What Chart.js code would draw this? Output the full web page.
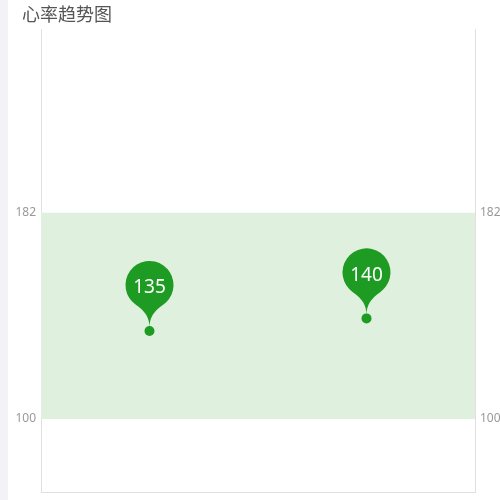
<!DOCTYPE html>
<html lang="zh">
<head>
    <meta charset="UTF-8">
    <title>心率趋势图</title>
    <style>
        body {
            margin: 0;
            background: #ffffff;
            font-family: "Noto Sans CJK SC", "Noto Sans", sans-serif;
        }
        #wrap {
            position: relative;
            width: 500px;
            height: 500px;
        }
        #strip {
            position: absolute;
            left: 0;
            top: 0;
            width: 8px;
            height: 500px;
            background: #f2f2f7;
        }
        #title {
            position: absolute;
            left: 22px;
            top: 1px;
            font-size: 18px;
            color: #555555;
            line-height: 24px;
        }
        #chart {
            position: absolute;
            left: 0;
            top: 0;
        }
    </style>
    <script src="https://cdn.jsdelivr.net/npm/chart.js"></script>
</head>
<body>
<div id="wrap">
    <div id="strip"></div>
    <canvas id="chart" width="500" height="500"></canvas>
    <div id="title">心率趋势图</div>
</div>

<script>
    // data
    const categories = ['1', '2'];
    const heartRate = [135, 140];
    const bandLow = 100;
    const bandHigh = 182;
    const tickValues = [100, 182];
    const axisMin = 71;
    const axisMax = 255;

    const green = '#1e9b22';
    const bandColor = '#dff0de';
    const lineColor = '#e0e0e0';

    // normal range band behind the points
    const bandPlugin = {
        id: 'band',
        beforeDatasetsDraw(chart) {
            const area = chart.chartArea;
            const y = chart.scales.y;
            const top = y.getPixelForValue(bandHigh);
            const bottom = y.getPixelForValue(bandLow);
            const ctx = chart.ctx;
            ctx.save();
            ctx.fillStyle = bandColor;
            ctx.fillRect(area.left, top, area.right - area.left, bottom - top);
            ctx.restore();
        }
    };

    // pin markers above every point, with the value inside
    const pinPlugin = {
        id: 'pins',
        afterDatasetsDraw(chart) {
            const ctx = chart.ctx;
            const meta = chart.getDatasetMeta(0);
            meta.data.forEach(function (pt, i) {
                const x = pt.x;
                const tipY = pt.y - 3;
                const r = 24;
                const cy = pt.y - 46;
                const angle = 0.95;
                const dx = Math.cos(angle) * r;
                const dy = Math.sin(angle) * r;
                const cp = r * 0.5;
                const cp2 = r * 0.45;
                ctx.save();
                ctx.fillStyle = green;
                ctx.beginPath();
                ctx.moveTo(x - dx, cy + dy);
                ctx.arc(x, cy, r, Math.PI - angle, Math.PI * 2 + angle);
                ctx.bezierCurveTo(x + dx - Math.sin(angle) * cp, cy + dy + Math.cos(angle) * cp,
                    x, tipY - cp2, x, tipY);
                ctx.bezierCurveTo(x, tipY - cp2,
                    x - dx + Math.sin(angle) * cp, cy + dy + Math.cos(angle) * cp,
                    x - dx, cy + dy);
                ctx.closePath();
                ctx.fill();
                ctx.fillStyle = '#ffffff';
                ctx.font = '19px "Noto Sans", sans-serif';
                ctx.textAlign = 'center';
                ctx.textBaseline = 'middle';
                ctx.fillText(String(heartRate[i]), x, cy + 3);
                ctx.restore();
            });
        }
    };

    const yScale = function (position) {
        return {
            type: 'linear',
            position: position,
            min: axisMin,
            max: axisMax,
            afterBuildTicks(scale) {
                scale.ticks = tickValues.map(v => ({ value: v }));
            },
            afterFit(scale) {
                scale.width = position === 'left' ? 41 : 25;
                // ticks sit far from the ends, no label overhang needed
                scale.paddingTop = 0;
                scale.paddingBottom = 0;
            },
            grid: { display: false, drawTicks: false },
            border: { display: true, color: lineColor },
            ticks: {
                color: '#999999',
                padding: 5,
                font: { size: 12, family: '"Noto Sans", sans-serif' }
            }
        };
    };

    new Chart(document.getElementById('chart').getContext('2d'), {
        type: 'line',
        data: {
            labels: categories,
            datasets: [{
                data: heartRate,
                showLine: false,
                pointRadius: 5,
                pointHoverRadius: 5,
                pointBackgroundColor: green,
                pointBorderColor: green,
                pointBorderWidth: 0
            }]
        },
        options: {
            responsive: false,
            animation: false,
            layout: { padding: { top: 29, bottom: 8, left: 0, right: 0 } },
            plugins: {
                legend: { display: false },
                tooltip: { enabled: false }
            },
            scales: {
                x: {
                    type: 'category',
                    offset: true,
                    grid: { display: false, drawTicks: false },
                    border: { display: true, color: lineColor },
                    ticks: { display: false }
                },
                y: yScale('left'),
                y1: yScale('right')
            }
        },
        plugins: [bandPlugin, pinPlugin]
    });
</script>
</body>
</html>
